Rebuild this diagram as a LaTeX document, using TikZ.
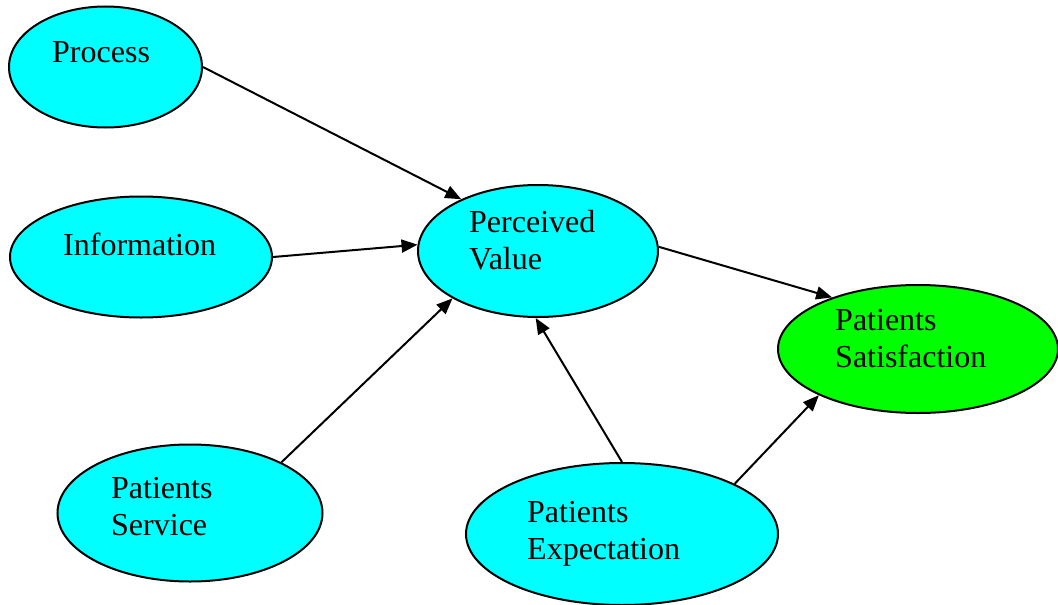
\documentclass[tikz,border=0pt]{standalone}
\usepackage{fontspec}
\setmainfont{Liberation Serif}
\usetikzlibrary{shapes.geometric,arrows.meta}
\definecolor{cyanfill}{RGB}{0,255,255}
\definecolor{greenfill}{RGB}{0,255,0}
\begin{document}
\begin{tikzpicture}[x=1pt,y=-1pt,
    blob/.style={ellipse,draw,line width=2pt,fill=cyanfill,inner sep=0pt},
    lbl/.style={anchor=base west,inner sep=0pt,align=left,font=\fontsize{32}{37}\selectfont},
    link/.style={line width=2pt,-{Triangle[length=16pt,width=13pt]}}]
    \useasboundingbox (0,0) rectangle (1058,605);
    % ovals
    \node[blob,minimum width=193pt,minimum height=121pt] (process) at (105.5,67) {};
    \node[blob,minimum width=262pt,minimum height=121pt] (info) at (141,257) {};
    \node[blob,minimum width=240pt,minimum height=132pt] (value) at (538,251) {};
    \node[blob,fill=greenfill,minimum width=280pt,minimum height=128pt] (satis) at (918,349) {};
    \node[blob,minimum width=265pt,minimum height=137pt] (service) at (190,513) {};
    \node[blob,minimum width=312pt,minimum height=142pt] (expect) at (622,534) {};
    % texts (base = last line)
    \node[lbl] (processtxt) at (52,62) {Process};
    \node[lbl] (infotxt) at (63,255) {Information};
    \node[lbl] (valuetxt) at (469,269) {Perceived\\Value};
    \node[lbl] (satistxt) at (835,367) {Patients\\Satisfaction};
    \node[lbl] (servicetxt) at (111,535) {Patients\\Service};
    \node[lbl] (expecttxt) at (527,559) {Patients\\Expectation};
    % arrows
    \draw[link] (process.east) -- (value.146);
    \draw[link] (info.east) -- (value.177);
    \draw[link] (service.29) -- (value.209);
    \draw[link] (value.2) -- (satis.149);
    \draw[link] (expect.north) -- (value.268);
    \draw[link] (expect.24) -- (satis.205);
\end{tikzpicture}
\end{document}
